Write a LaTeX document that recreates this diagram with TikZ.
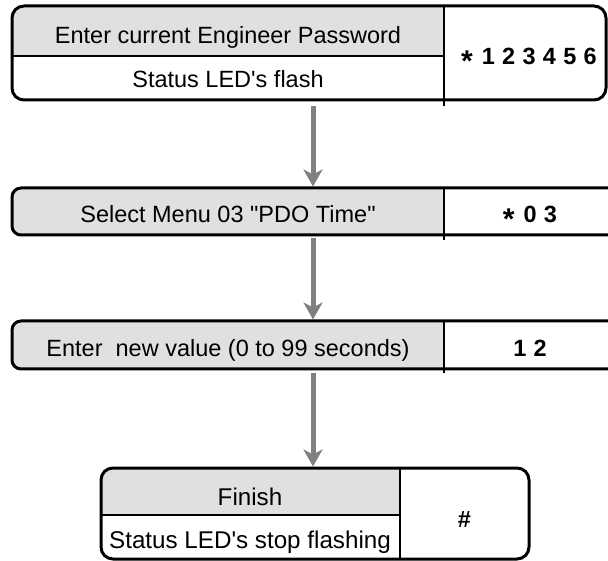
\documentclass[tikz,border=0pt]{standalone}
\usepackage{fontspec}
\setmainfont{Liberation Sans}
\usetikzlibrary{arrows.meta}
\definecolor{panelgray}{HTML}{E0E0E0}
\definecolor{flowgray}{HTML}{808080}
\tikzset{
  txt/.style={font=\fontsize{23.5}{27}\selectfont, inner sep=0pt, anchor=base},
  bigtxt/.style={font=\fontsize{24.2}{28}\selectfont, inner sep=0pt, anchor=base},
  num/.style={font=\fontsize{23.5}{27}\selectfont\bfseries, inner sep=0pt, anchor=base},
  frame/.style={draw=black, line width=3pt},
  sep/.style={draw=black, line width=1.8pt},
  flow/.style={draw=flowgray, line width=5pt, -{Stealth[length=17pt,width=19pt,inset=5pt]}},
}
\newcommand{\mystar}{\raisebox{-0.28em}{\fontsize{30}{30}\selectfont *}}
\newcommand{\dg}{\hspace{7.3pt}}
\begin{document}
\begin{tikzpicture}[x=1pt,y=-1pt]
\useasboundingbox (0,0) rectangle (608,561);
\clip (0,0) rectangle (608,561);
% ---------- box 1 ----------
\begin{scope}
  \clip[rounded corners=12pt] (12,6) rectangle (606,100);
  \fill[panelgray] (12,6) rectangle (444,56);
\end{scope}
\draw[sep] (12,56) -- (444,56);
\draw[sep] (444,6) -- (444,106);
\node[frame, rounded corners=12pt, minimum width=594pt, minimum height=94pt, inner sep=0pt] (b1) at (309,53) {};
\node[txt] (t1a) at (228,44) {Enter current Engineer Password};
\node[txt] (t1b) at (228,88) {Status LED\textquotesingle s flash};
\node[num] (n1) at (529,65) {\mystar\hspace{9pt}1\dg 2\dg 3\dg 4\dg 5\dg 6};
% ---------- box 2 ----------
\begin{scope}
  \clip[rounded corners=9pt] (12,188) rectangle (630,235);
  \fill[panelgray] (12,188) rectangle (444,235);
\end{scope}
\draw[sep] (444,188) -- (444,240);
\node[frame, rounded corners=9pt, minimum width=618pt, minimum height=47pt, inner sep=0pt] (b2) at (321,211.5) {};
\node[txt] (t2) at (228,223) {Select Menu 03 \textquotedbl PDO Time\textquotedbl};
\node[num] (n2) at (530,223) {\mystar\hspace{9pt}0\dg 3};
% ---------- box 3 ----------
\begin{scope}
  \clip[rounded corners=9pt] (12,321) rectangle (630,369);
  \fill[panelgray] (12,321) rectangle (444,369);
\end{scope}
\draw[sep] (444,321) -- (444,373);
\node[frame, rounded corners=9pt, minimum width=618pt, minimum height=48pt, inner sep=0pt] (b3) at (321,345) {};
\node[txt] (t3) at (228,357) {Enter\ \ new value (0 to 99 seconds)};
\node[num] (n3) at (530,356) {1\dg 2};
% ---------- box 4 ----------
\begin{scope}
  \clip[rounded corners=12pt] (101,468) rectangle (529,559);
  \fill[panelgray] (101,468) rectangle (400,515);
\end{scope}
\draw[sep] (101,515) -- (400,515);
\draw[sep] (400,468) -- (400,559);
\node[frame, rounded corners=12pt, minimum width=428pt, minimum height=91pt, inner sep=0pt] (b4) at (315,513.5) {};
\node[bigtxt] (t4a) at (250,505) {Finish};
\node[bigtxt] (t4b) at (250,548) {Status LED\textquotesingle s stop flashing};
\node[num] (n4) at (464.5,527) {\#};
% ---------- connectors ----------
\coordinate (ax) at (313,0);
\draw[flow] ([yshift=-5pt]b1.south -| ax) -- (b2.north -| ax);
\draw[flow] ([yshift=-2pt]b2.south -| ax) -- (b3.north -| ax);
\draw[flow] ([yshift=-3pt]b3.south -| ax) -- (b4.north -| ax);
\end{tikzpicture}
\end{document}
